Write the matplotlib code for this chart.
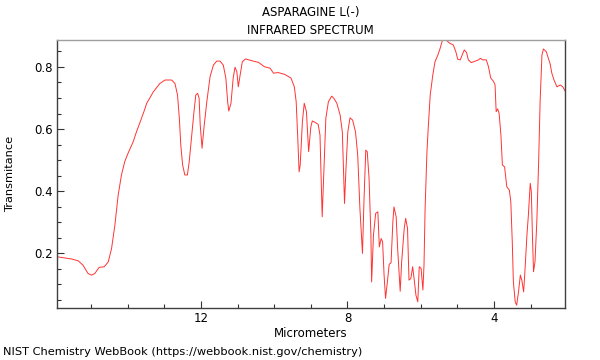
import numpy as np
import matplotlib
matplotlib.use("Agg")
import matplotlib.pyplot as plt
from matplotlib.ticker import MultipleLocator

# Spectrum (wavelength in micrometers, transmittance)
wavelength = [
    15.92, 15.53, 15.35, 15.22, 15.08, 14.99, 14.90, 14.78, 14.64, 14.53,
    14.44, 14.35, 14.26, 14.17, 14.08, 13.99, 13.85, 13.76, 13.64, 13.53,
    13.48, 13.30, 13.12, 12.98, 12.80, 12.71, 12.64, 12.59, 12.55, 12.50,
    12.44, 12.37, 12.32, 12.25, 12.19, 12.14, 12.09, 12.05, 12.02, 11.97,
    11.92, 11.84, 11.75, 11.66, 11.57, 11.48, 11.39, 11.32, 11.27, 11.24,
    11.18, 11.12, 11.07, 11.02, 10.98, 10.93, 10.87, 10.78, 10.61, 10.43,
    10.27, 10.11, 10.02, 9.89, 9.71, 9.54, 9.45, 9.40, 9.36, 9.32,
    9.29, 9.23, 9.18, 9.12, 9.06, 9.00, 8.96, 8.89, 8.80, 8.75,
    8.72, 8.69, 8.64, 8.59, 8.52, 8.43, 8.37, 8.29, 8.20, 8.14,
    8.11, 8.08, 8.04, 7.99, 7.93, 7.86, 7.78, 7.72, 7.66, 7.59,
    7.55, 7.50, 7.46, 7.41, 7.36, 7.34, 7.29, 7.23, 7.17, 7.13,
    7.08, 7.04, 7.00, 6.96, 6.91, 6.86, 6.81, 6.76, 6.73, 6.67,
    6.63, 6.58, 6.56, 6.52, 6.45, 6.41, 6.36, 6.32, 6.27, 6.22,
    6.17, 6.13, 6.08, 6.04, 5.99, 5.94, 5.91, 5.88, 5.83, 5.79,
    5.74, 5.67, 5.61, 5.53, 5.47, 5.41, 5.31, 5.20, 5.11, 5.04,
    4.99, 4.92, 4.86, 4.81, 4.75, 4.70, 4.62, 4.51, 4.42, 4.37,
    4.31, 4.21, 4.15, 4.09, 4.01, 3.97, 3.94, 3.90, 3.86, 3.81,
    3.77, 3.71, 3.65, 3.58, 3.54, 3.50, 3.47, 3.42, 3.38, 3.33,
    3.28, 3.24, 3.19, 3.15, 3.10, 3.06, 3.01, 2.98, 2.95, 2.92,
    2.88, 2.83, 2.78, 2.74, 2.69, 2.65, 2.57, 2.51, 2.47, 2.42,
    2.36, 2.28, 2.19, 2.12, 2.06,
]
transmittance = [
    0.188, 0.181, 0.175, 0.161, 0.134, 0.129, 0.134, 0.154, 0.156, 0.172,
    0.215, 0.290, 0.387, 0.452, 0.495, 0.522, 0.559, 0.591, 0.629, 0.665,
    0.683, 0.720, 0.747, 0.758, 0.758, 0.747, 0.710, 0.635, 0.548, 0.484,
    0.452, 0.452, 0.495, 0.581, 0.656, 0.710, 0.715, 0.699, 0.613, 0.538,
    0.602, 0.688, 0.769, 0.806, 0.819, 0.819, 0.806, 0.764, 0.687, 0.658,
    0.683, 0.764, 0.799, 0.785, 0.736, 0.774, 0.817, 0.826, 0.820, 0.815,
    0.801, 0.796, 0.780, 0.782, 0.776, 0.764, 0.736, 0.688, 0.581, 0.462,
    0.484, 0.624, 0.683, 0.656, 0.527, 0.607, 0.626, 0.622, 0.615, 0.581,
    0.452, 0.317, 0.473, 0.635, 0.688, 0.706, 0.699, 0.683, 0.645, 0.591,
    0.473, 0.360, 0.473, 0.591, 0.636, 0.629, 0.591, 0.516, 0.344, 0.199,
    0.365, 0.532, 0.527, 0.441, 0.258, 0.107, 0.258, 0.328, 0.333, 0.220,
    0.247, 0.236, 0.129, 0.054, 0.107, 0.164, 0.169, 0.301, 0.349, 0.317,
    0.215, 0.118, 0.077, 0.172, 0.280, 0.312, 0.280, 0.113, 0.118, 0.156,
    0.107, 0.064, 0.043, 0.156, 0.151, 0.081, 0.161, 0.344, 0.527, 0.613,
    0.710, 0.774, 0.817, 0.839, 0.860, 0.885, 0.887, 0.876, 0.871, 0.849,
    0.825, 0.823, 0.841, 0.855, 0.847, 0.823, 0.814, 0.819, 0.823, 0.828,
    0.823, 0.823, 0.801, 0.765, 0.753, 0.742, 0.656, 0.665, 0.651, 0.581,
    0.484, 0.478, 0.414, 0.403, 0.365, 0.236, 0.107, 0.043, 0.032, 0.075,
    0.129, 0.113, 0.075, 0.151, 0.258, 0.323, 0.425, 0.398, 0.258, 0.140,
    0.172, 0.301, 0.495, 0.688, 0.839, 0.858, 0.849, 0.826, 0.812, 0.780,
    0.758, 0.736, 0.742, 0.736, 0.723,
]

x_ticks = [12, 8, 4]
y_ticks = [0.2, 0.4, 0.6, 0.8]

fig = plt.figure(figsize=(6, 3.6), dpi=100)
ax = fig.add_axes([0.095, 0.1444, 0.8467, 0.7445])

ax.plot(wavelength, transmittance, color="#ff3333", lw=0.7)

ax.set_xlim(15.93, 2.06)
ax.set_ylim(0.023, 0.887)

ax.set_xticks(x_ticks)
ax.set_xticklabels([str(t) for t in x_ticks])
ax.xaxis.set_minor_locator(MultipleLocator(1))
ax.set_yticks(y_ticks)
ax.set_yticklabels([f"{t:.1f}" for t in y_ticks])
ax.yaxis.set_minor_locator(MultipleLocator(0.05))

ax.tick_params(which="major", direction="in", length=5, width=0.8,
               color="#333333", labelsize=8.5, pad=3)
ax.tick_params(which="minor", direction="in", length=3, width=0.8,
               color="#333333")

for side in ["left", "bottom", "right"]:
    ax.spines[side].set_color("#404040")
    ax.spines[side].set_linewidth(1.0)
ax.spines["top"].set_color("#a0a0a0")
ax.spines["top"].set_linewidth(1.0)

ax.set_xlabel("Micrometers", fontsize=8.5, labelpad=1)
ax.set_ylabel("Transmitance", fontsize=8.2)
ax.yaxis.set_label_coords(-0.083, 0.5)

fig.text(0.518, 0.966, "ASPARAGINE L(-)", ha="center", va="center", fontsize=8.5)
fig.text(0.518, 0.916, "INFRARED SPECTRUM", ha="center", va="center", fontsize=8.5)
fig.text(0.005, 0.022, "NIST Chemistry WebBook (https://webbook.nist.gov/chemistry)",
         ha="left", va="center", fontsize=8.2)

fig.savefig("out.png", dpi=100)
